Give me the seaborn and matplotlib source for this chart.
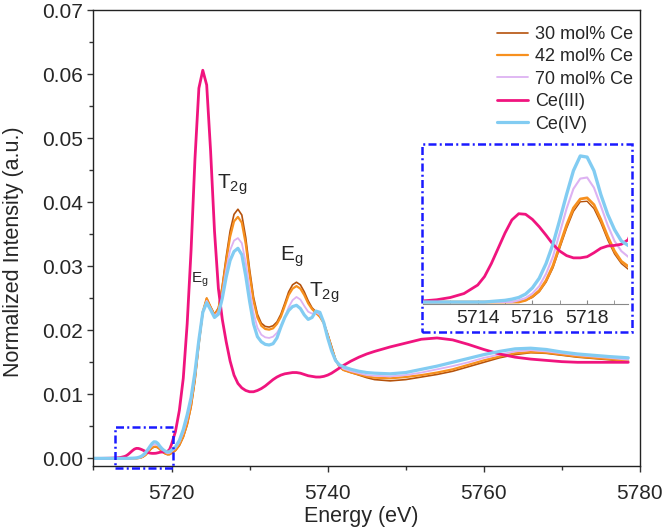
import matplotlib
matplotlib.use("Agg")
import matplotlib.pyplot as plt
import matplotlib.ticker as mticker
from matplotlib.patches import Rectangle
import seaborn as sns
import numpy as np
import pandas as pd

# energy grid (eV)
energy = [5710, 5711, 5712, 5712.5, 5713, 5713.5, 5714, 5714.25, 5714.5, 5714.75,
          5715, 5715.25, 5715.5, 5715.75, 5716, 5716.25, 5716.5, 5716.75, 5717, 5717.25,
          5717.5, 5717.75, 5718, 5718.25, 5718.5, 5718.75, 5719, 5719.25, 5719.5, 5719.75,
          5720,
          5720.5, 5721, 5721.5, 5722, 5722.5, 5723, 5723.5, 5724, 5724.5, 5725,
          5725.5, 5726, 5726.5, 5727, 5727.5, 5728, 5728.5, 5729, 5729.5, 5730,
          5730.5, 5731, 5731.5, 5732, 5732.5, 5733, 5733.5, 5734, 5734.5, 5735,
          5735.5, 5736, 5736.5, 5737, 5737.5, 5738, 5738.5, 5739, 5739.5, 5740,
          5740.5, 5741, 5741.5, 5742, 5743, 5744, 5745,
          5746, 5748, 5750, 5752, 5754, 5756, 5758, 5760, 5762, 5764,
          5766, 5768, 5770, 5772, 5774, 5776, 5778.5]

ce30 = [0, 0, 0, 0, 0, 0, 0, 0, 0, 0, 0, 0, 0,
        0.00003, 0.00008, 0.00018, 0.00035, 0.0006, 0.00095, 0.0013, 0.0016, 0.00177, 0.00178,
        0.00165, 0.0014, 0.0011, 0.00085, 0.00068, 0.00058, 0.0006, 0.0008,
        0.0012, 0.002, 0.0033, 0.0052, 0.008, 0.0122, 0.0178, 0.0228, 0.025, 0.0237,
        0.0225, 0.0235, 0.027, 0.0315, 0.0355, 0.0381, 0.0389, 0.038, 0.0345, 0.0295,
        0.0252, 0.0225, 0.0211, 0.0206, 0.0205, 0.0207, 0.0213, 0.0225, 0.0242, 0.026,
        0.0271, 0.0275, 0.0271, 0.026, 0.0246, 0.0235, 0.0229, 0.0223, 0.0212, 0.0194,
        0.0175, 0.0155, 0.0143, 0.0138, 0.0134, 0.013, 0.0126,
        0.0123, 0.0121, 0.0123, 0.0127, 0.0131, 0.0136, 0.0143, 0.015, 0.0157, 0.0162,
        0.0165, 0.0164, 0.0161, 0.0158, 0.0156, 0.0154, 0.0151]

ce42 = [0, 0, 0, 0, 0, 0, 0, 0, 0, 0, 0, 0, 0,
        0.00003, 0.0001, 0.0002, 0.00038, 0.00064, 0.001, 0.00136, 0.00166, 0.00182, 0.00184,
        0.00172, 0.00146, 0.00116, 0.0009, 0.00072, 0.00063, 0.00065, 0.00085,
        0.0013, 0.0021, 0.0034, 0.0054, 0.0082, 0.0124, 0.018, 0.0229, 0.025, 0.0236,
        0.0224, 0.0233, 0.0266, 0.0308, 0.0346, 0.037, 0.0377, 0.0368, 0.0335, 0.0287,
        0.0246, 0.022, 0.0207, 0.0202, 0.0201, 0.0203, 0.021, 0.0221, 0.0238, 0.0255,
        0.0265, 0.0269, 0.0265, 0.0255, 0.0242, 0.0233, 0.0227, 0.0221, 0.0211, 0.0193,
        0.0173, 0.0154, 0.0143, 0.0138, 0.0134, 0.0131, 0.0128,
        0.0126, 0.0125, 0.0127, 0.013, 0.0134, 0.0139, 0.0146, 0.0153, 0.0159, 0.0164,
        0.0166, 0.0165, 0.0162, 0.0159, 0.0157, 0.0155, 0.0152]

ce70 = [0, 0, 0, 0, 0, 0, 0, 0, 0, 0, 0, 0,
        0.00003, 0.00007, 0.00015, 0.00028, 0.0005, 0.0008, 0.00122, 0.00165, 0.002, 0.00218,
        0.0022, 0.00202, 0.0017, 0.00136, 0.00108, 0.0009, 0.0008, 0.00085, 0.0011,
        0.0016, 0.0025, 0.004, 0.0061, 0.0089, 0.013, 0.0183, 0.0228, 0.0246, 0.0234,
        0.0222, 0.0229, 0.0258, 0.0295, 0.0325, 0.034, 0.0344, 0.0336, 0.0306, 0.0264,
        0.0227, 0.0204, 0.0193, 0.0189, 0.0188, 0.019, 0.0196, 0.0206, 0.022, 0.0236,
        0.0247, 0.0252, 0.0248, 0.0238, 0.0229, 0.0226, 0.0228, 0.0224, 0.0212, 0.0191,
        0.0169, 0.0152, 0.0144, 0.014, 0.0136, 0.0133, 0.013,
        0.0129, 0.0128, 0.013, 0.0134, 0.0139, 0.0144, 0.015, 0.0157, 0.0162, 0.0167,
        0.0169, 0.0167, 0.0164, 0.0161, 0.0159, 0.0157, 0.0154]

ce3 = [0.0, 0.0, 0.00002, 0.00004, 0.00008, 0.00015, 0.0003, 0.00045, 0.00068, 0.00095,
       0.00122, 0.00145, 0.00156, 0.00155, 0.00146, 0.00133, 0.00118, 0.00102, 0.0009, 0.00082,
       0.00078, 0.00078, 0.0008, 0.00087, 0.00095, 0.00099, 0.001, 0.00102, 0.0011, 0.0014,
       0.0022,
       0.0042, 0.0075, 0.0125, 0.021, 0.0325, 0.0468, 0.0578, 0.0606, 0.0583, 0.048,
       0.0355, 0.0265, 0.0217, 0.0182, 0.0152, 0.013, 0.0117, 0.011, 0.0106, 0.0104,
       0.0104, 0.0106, 0.0109, 0.0113, 0.0118, 0.0123, 0.0127, 0.013, 0.0132, 0.0133,
       0.0134, 0.0134, 0.0133, 0.0131, 0.0129, 0.0128, 0.0127, 0.0127, 0.0128, 0.013,
       0.0133, 0.0137, 0.0141, 0.0145, 0.0152, 0.0158, 0.0163,
       0.0167, 0.0174, 0.018, 0.0186, 0.0188, 0.0185, 0.0178, 0.017, 0.0163, 0.0158,
       0.0155, 0.0153, 0.0151, 0.015, 0.015, 0.015, 0.015]

ce4 = [0, 0, 0, 0, 0, 0, 0, 0, 0.00001, 0.00002,
       0.00003, 0.00005, 0.00008, 0.00014, 0.00025, 0.00042, 0.00068, 0.00102, 0.00145, 0.0019,
       0.00232, 0.00258, 0.00256, 0.00232, 0.0019, 0.00155, 0.00128, 0.00108, 0.001, 0.00105,
       0.0013,
       0.0018, 0.0028, 0.0045, 0.0068, 0.0095, 0.0135, 0.0185, 0.0228, 0.0243, 0.0232,
       0.022, 0.0225, 0.025, 0.0283, 0.0309, 0.0323, 0.0328, 0.0318, 0.0285, 0.0245,
       0.021, 0.019, 0.0182, 0.0178, 0.0177, 0.0179, 0.0188, 0.0205, 0.022, 0.0231,
       0.0237, 0.0239, 0.0234, 0.0224, 0.0217, 0.022, 0.023, 0.0228, 0.0212, 0.0188,
       0.0168, 0.0153, 0.0146, 0.0143, 0.0139, 0.0136, 0.0134,
       0.0133, 0.0132, 0.0134, 0.0139, 0.0144, 0.015, 0.0156, 0.0162, 0.0167, 0.0171,
       0.0172, 0.017, 0.0166, 0.0163, 0.0161, 0.0159, 0.0157]

labels = ["30 mol% Ce", "42 mol% Ce", "70 mol% Ce", "Ce(III)", "Ce(IV)"]
series = [ce30, ce42, ce70, ce3, ce4]
colors = ["#B5520C", "#F7901E", "#DDB2F2", "#F0147E", "#82CCF2"]
widths = [1.2, 1.6, 1.3, 2.0, 2.3]

sns.set_style("ticks")
plt.rcParams["font.family"] = ["Liberation Sans", "DejaVu Sans"]
plt.rcParams["mathtext.default"] = "regular"

fig = plt.figure(figsize=(6.64, 5.29), dpi=100)
ax = fig.add_axes([0.1408, 0.119, 0.823, 0.862])

for lab, vals, c, w in zip(labels, series, colors, widths):
    sns.lineplot(x=energy, y=vals, ax=ax, color=c, linewidth=w, label=lab, errorbar=None)

ax.set_xlim(5710, 5780)
ax.set_ylim(-0.0012, 0.07)
ax.xaxis.set_major_locator(mticker.FixedLocator([5720, 5740, 5760, 5780]))
ax.xaxis.set_minor_locator(mticker.FixedLocator([5710, 5730, 5750, 5770]))
ax.yaxis.set_major_locator(mticker.MultipleLocator(0.01))
ax.yaxis.set_minor_locator(mticker.MultipleLocator(0.005))
ax.yaxis.set_major_formatter(mticker.FormatStrFormatter("%.2f"))
ax.tick_params(axis="both", which="major", labelsize=15, length=4, width=1, color="#333333")
ax.tick_params(axis="both", which="minor", length=3, width=1, color="#333333")
ax.tick_params(axis="x", which="major", pad=9)
for s in ax.spines.values():
    s.set_color("#222222")
    s.set_linewidth(1.0)

ax.set_xlabel("Energy (eV)", fontsize=15.5)
ax.set_ylabel("Normalized Intensity (a.u.)", fontsize=15.5)
ax.xaxis.set_label_coords(0.49, -0.088)
ax.yaxis.set_label_coords(-0.128, 0.47)

ax.legend(loc="upper right", bbox_to_anchor=(1.0013, 0.981), frameon=False, fontsize=13,
          handlelength=1.7, labelspacing=0.3, borderaxespad=0, handletextpad=0.4)

# peak labels
ax.text(5727.7, 0.0427, "T$_{2g}$", fontsize=15, ha="center", va="center")
ax.text(5723.6, 0.0278, "E$_g$", fontsize=11, ha="center", va="center")
ax.text(5735.4, 0.0315, "E$_g$", fontsize=15, ha="center", va="center")
ax.text(5739.6, 0.0258, "T$_{2g}$", fontsize=15, ha="center", va="center")

# dash-dot boxes
box_kw = dict(fill=False, ec="#1a1aff", lw=1.8, ls=(0, (3.2, 1.3, 0.8, 1.3)), clip_on=False, zorder=6)
ax.add_patch(Rectangle((5712.73, -0.0015), 7.47, 0.0064, **box_kw))
ax.add_patch(Rectangle((5752.05, 0.0198), 26.92, 0.0293, **box_kw))

# inset: pre-edge zoom
axin = fig.add_axes([0.637, 0.4253, 0.309, 0.297])
axin.patch.set_alpha(0)
in_widths = [1.0, 2.0, 1.5, 2.0, 2.4]
for lab, vals, c, w in zip(labels, series, colors, in_widths):
    sns.lineplot(x=energy, y=vals, ax=axin, color=c, linewidth=w, errorbar=None, legend=False)
axin.set_xlim(5712, 5719.5)
axin.set_ylim(-0.000035, 0.00274)
axin.set_xlabel("")
axin.set_ylabel("")
axin.set_yticks([])
axin.xaxis.set_major_locator(mticker.FixedLocator([5714, 5716, 5718]))
axin.xaxis.set_minor_locator(mticker.FixedLocator([5713, 5715, 5717, 5719]))
axin.tick_params(axis="x", which="both", direction="in", length=3, color="#888888",
                 labelsize=14, pad=4)
for side in ["left", "top", "right"]:
    axin.spines[side].set_visible(False)
axin.spines["bottom"].set_color("#888888")

fig.savefig("out.png", dpi=100)
